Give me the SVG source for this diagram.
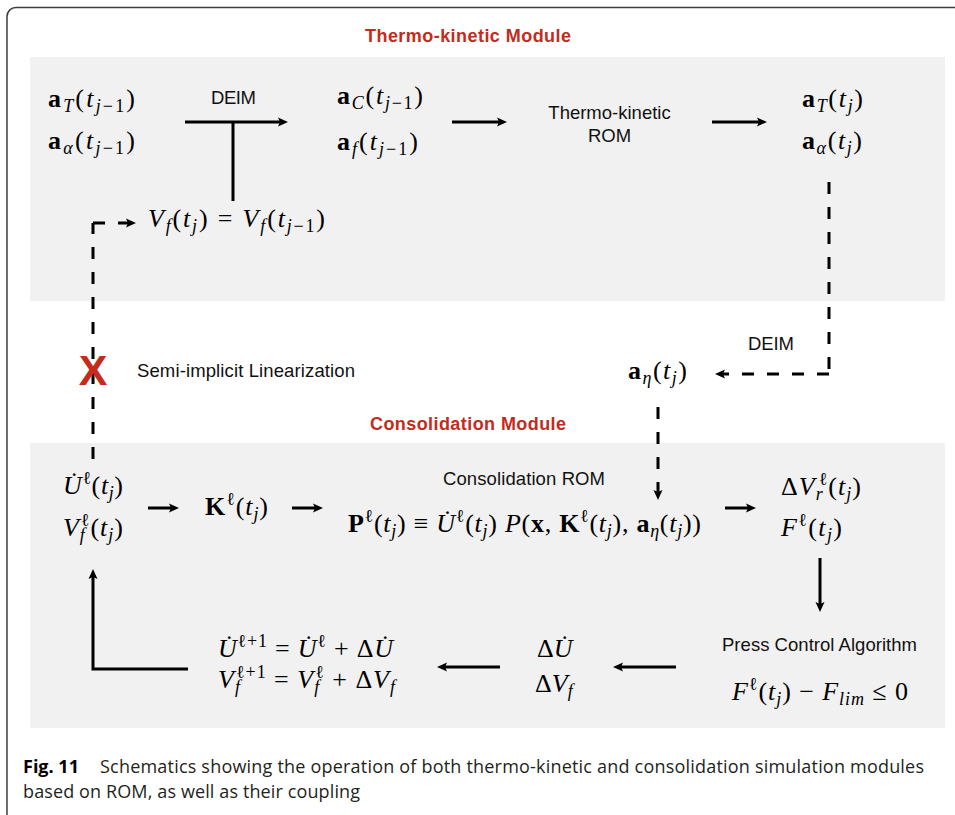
<svg xmlns="http://www.w3.org/2000/svg" width="955" height="815" viewBox="0 0 955 815">
<style>
.m{font-family:"Liberation Serif","DejaVu Serif",serif;font-size:26px;fill:#000}
.i{font-style:italic}
.b{font-weight:bold}
.s{font-size:18px}
.l{font-family:"Liberation Sans",Arial,sans-serif;font-size:18.5px;fill:#111}
.t{font-family:"Liberation Sans",Arial,sans-serif;font-size:18px;font-weight:bold;fill:#c42b1c}
.ln{stroke:#000;stroke-width:3;fill:none}
.d{stroke-dasharray:12 13}
.cap{font-family:"Open Sans","Noto Sans",sans-serif;font-size:18px;fill:#231f20}
.panel{fill:#f1f1f1}
</style>
<defs>
<marker id="ah" viewBox="0 0 10 10" refX="5" refY="5" markerWidth="10" markerHeight="10" markerUnits="userSpaceOnUse" orient="auto">
<path d="M0,0.5 L10,5 L0,9.5 L2,5 z" fill="#000"/>
</marker>
</defs>
<rect x="7" y="7.5" width="1000" height="900" rx="9" fill="#fff" stroke="#3c3c3c" stroke-width="1.5"/>
<rect class="panel" x="30" y="57" width="915" height="244"/>
<rect class="panel" x="30" y="443" width="915" height="285"/>

<g id="title-thermo"><text class="t" x="365" y="42" textLength="206">Thermo-kinetic Module</text></g>
<g id="title-consol"><text class="t" x="370" y="430" textLength="196">Consolidation Module</text></g>

<g id="connectors">
<path class="ln" d="M185,122 H283" marker-end="url(#ah)"/>
<path class="ln" d="M233,122 V201"/>
<path class="ln" d="M452,122 H502" marker-end="url(#ah)"/>
<path class="ln" d="M712,122 H762" marker-end="url(#ah)"/>
<path class="ln d" d="M829,182 V374"/>
<path class="ln d" d="M829,374 H720" marker-end="url(#ah)"/>
<path class="ln d" d="M658,407 V495" marker-end="url(#ah)"/>
<path class="ln d" d="M93,459 V223"/>
<path class="ln d" d="M93,223 H131" marker-end="url(#ah)"/>
<path class="ln" d="M148,508 H174" marker-end="url(#ah)"/>
<path class="ln" d="M292,508 H318" marker-end="url(#ah)"/>
<path class="ln" d="M725,508 H751" marker-end="url(#ah)"/>
<path class="ln" d="M820,558 V607" marker-end="url(#ah)"/>
<path class="ln" d="M676,667 H618" marker-end="url(#ah)"/>
<path class="ln" d="M500,667 H442" marker-end="url(#ah)"/>
<path class="ln" d="M188,669 H93 V574" marker-end="url(#ah)"/>
</g>

<g id="n-aT-prev"><text class="m" x="48" y="107" textLength="87"><tspan class="b">a</tspan><tspan class="s i" dy="5">T</tspan><tspan dy="-5">(</tspan><tspan class="i">t</tspan><tspan class="s" dy="5"><tspan class="i">j</tspan>−1</tspan><tspan dy="-5">)</tspan></text></g>
<g id="n-aalpha-prev"><text class="m" x="48" y="149" textLength="87"><tspan class="b">a</tspan><tspan class="s i" dy="5">α</tspan><tspan dy="-5">(</tspan><tspan class="i">t</tspan><tspan class="s" dy="5"><tspan class="i">j</tspan>−1</tspan><tspan dy="-5">)</tspan></text></g>
<g id="n-deim-top"><text class="l" x="211" y="104" textLength="45">DEIM</text></g>
<g id="n-aC-prev"><text class="m" x="337" y="104" textLength="86"><tspan class="b">a</tspan><tspan class="s i" dy="5">C</tspan><tspan dy="-5">(</tspan><tspan class="i">t</tspan><tspan class="s" dy="5"><tspan class="i">j</tspan>−1</tspan><tspan dy="-5">)</tspan></text></g>
<g id="n-af-prev"><text class="m" x="337" y="150" textLength="81"><tspan class="b">a</tspan><tspan class="s i" dy="5">f</tspan><tspan dy="-5">(</tspan><tspan class="i">t</tspan><tspan class="s" dy="5"><tspan class="i">j</tspan>−1</tspan><tspan dy="-5">)</tspan></text></g>
<g id="n-tk-rom"><text class="l" text-anchor="middle" x="609.5" y="119">Thermo-kinetic</text><text class="l" text-anchor="middle" x="609.5" y="142">ROM</text></g>
<g id="n-aT"><text class="m" x="802" y="107" textLength="61"><tspan class="b">a</tspan><tspan class="s i" dy="5">T</tspan><tspan dy="-5">(</tspan><tspan class="i">t</tspan><tspan class="s i" dy="5">j</tspan><tspan dy="-5">)</tspan></text></g>
<g id="n-aalpha"><text class="m" x="802" y="149" textLength="60"><tspan class="b">a</tspan><tspan class="s i" dy="5">α</tspan><tspan dy="-5">(</tspan><tspan class="i">t</tspan><tspan class="s i" dy="5">j</tspan><tspan dy="-5">)</tspan></text></g>
<g id="n-vf"><text class="m" x="148" y="227" textLength="177"><tspan class="i">V</tspan><tspan class="s i" dy="5">f</tspan><tspan dy="-5">(</tspan><tspan class="i">t</tspan><tspan class="s i" dy="5">j</tspan><tspan dy="-5">) = </tspan><tspan class="i">V</tspan><tspan class="s i" dy="5">f</tspan><tspan dy="-5">(</tspan><tspan class="i">t</tspan><tspan class="s" dy="5"><tspan class="i">j</tspan>−1</tspan><tspan dy="-5">)</tspan></text></g>
<g id="n-deim-right"><text class="l" x="748" y="350" textLength="46">DEIM</text></g>
<g id="n-aeta"><text class="m" x="628" y="379" textLength="59"><tspan class="b">a</tspan><tspan class="s i" dy="5">η</tspan><tspan dy="-5">(</tspan><tspan class="i">t</tspan><tspan class="s i" dy="5">j</tspan><tspan dy="-5">)</tspan></text></g>
<g id="n-cross"><text x="93" y="385" text-anchor="middle" font-family="Liberation Sans, Arial, sans-serif" font-weight="bold" font-size="43" fill="#c42b1c">X</text></g>
<g id="n-semi"><text class="l" x="137" y="377" textLength="218">Semi-implicit Linearization</text></g>

<g id="n-u"><text class="m" x="63" y="494" textLength="60"><tspan class="i">U̇</tspan><tspan class="s" dy="-10">ℓ</tspan><tspan dy="10">(</tspan><tspan class="i">t</tspan><tspan class="s i" dy="5">j</tspan><tspan dy="-5">)</tspan></text>
<text class="m" x="63" y="536" textLength="60"><tspan class="i">V</tspan><tspan class="s i" dy="5">f</tspan><tspan class="s" dx="-5" dy="-15">ℓ</tspan><tspan dy="10">(</tspan><tspan class="i">t</tspan><tspan class="s i" dy="5">j</tspan><tspan dy="-5">)</tspan></text></g>
<g id="n-k"><text class="m" x="205" y="515" textLength="63"><tspan class="b">K</tspan><tspan class="s" dy="-10">ℓ</tspan><tspan dy="10">(</tspan><tspan class="i">t</tspan><tspan class="s i" dy="5">j</tspan><tspan dy="-5">)</tspan></text></g>
<g id="n-rom"><text class="l" x="443" y="485" textLength="162">Consolidation ROM</text>
<text class="m" x="348" y="532" textLength="353"><tspan class="b">P</tspan><tspan class="s" dy="-10">ℓ</tspan><tspan dy="10">(</tspan><tspan class="i">t</tspan><tspan class="s i" dy="5">j</tspan><tspan dy="-5">) ≡ </tspan><tspan class="i">U̇</tspan><tspan class="s" dy="-10">ℓ</tspan><tspan dy="10">(</tspan><tspan class="i">t</tspan><tspan class="s i" dy="5">j</tspan><tspan dy="-5">) </tspan><tspan class="i">P</tspan><tspan>(</tspan><tspan class="b">x</tspan><tspan>, </tspan><tspan class="b">K</tspan><tspan class="s" dy="-10">ℓ</tspan><tspan dy="10">(</tspan><tspan class="i">t</tspan><tspan class="s i" dy="5">j</tspan><tspan dy="-5">), </tspan><tspan class="b">a</tspan><tspan class="s i" dy="5">η</tspan><tspan dy="-5">(</tspan><tspan class="i">t</tspan><tspan class="s i" dy="5">j</tspan><tspan dy="-5">))</tspan></text></g>
<g id="n-dvr"><text class="m" x="781" y="495" textLength="80"><tspan>Δ</tspan><tspan class="i">V</tspan><tspan class="s i" dy="5">r</tspan><tspan class="s" dx="-5" dy="-15">ℓ</tspan><tspan dy="10">(</tspan><tspan class="i">t</tspan><tspan class="s i" dy="5">j</tspan><tspan dy="-5">)</tspan></text>
<text class="m" x="781" y="536" textLength="61"><tspan class="i">F</tspan><tspan class="s" dy="-10">ℓ</tspan><tspan dy="10">(</tspan><tspan class="i">t</tspan><tspan class="s i" dy="5">j</tspan><tspan dy="-5">)</tspan></text></g>
<g id="n-press"><text class="l" x="722" y="651" textLength="195">Press Control Algorithm</text>
<text class="m" x="732" y="700" textLength="176"><tspan class="i">F</tspan><tspan class="s" dy="-10">ℓ</tspan><tspan dy="10">(</tspan><tspan class="i">t</tspan><tspan class="s i" dy="5">j</tspan><tspan dy="-5">) − </tspan><tspan class="i">F</tspan><tspan class="s i" dy="5">lim</tspan><tspan dy="-5"> ≤ 0</tspan></text></g>
<g id="n-delta"><text class="m" x="537" y="657">Δ<tspan class="i">U̇</tspan></text>
<text class="m" x="535" y="692">Δ<tspan class="i">V</tspan><tspan class="s i" dy="5">f</tspan></text></g>
<g id="n-update"><text class="m" x="218" y="657" textLength="175"><tspan class="i">U̇</tspan><tspan class="s" dy="-10">ℓ+1</tspan><tspan dy="10"> = </tspan><tspan class="i">U̇</tspan><tspan class="s" dy="-10">ℓ</tspan><tspan dy="10"> + Δ</tspan><tspan class="i">U̇</tspan></text>
<text class="m" x="218" y="688" textLength="177"><tspan class="i">V</tspan><tspan class="s i" dy="5">f</tspan><tspan class="s" dx="-5" dy="-15">ℓ+1</tspan><tspan dy="10"> = </tspan><tspan class="i">V</tspan><tspan class="s i" dy="5">f</tspan><tspan class="s" dx="-5" dy="-15">ℓ</tspan><tspan dy="10"> + Δ</tspan><tspan class="i">V</tspan><tspan class="s i" dy="5">f</tspan></text></g>

<g id="caption">
<text class="cap" x="23" y="773"><tspan font-weight="bold" fill="#000">Fig. 11</tspan></text>
<text class="cap" x="100" y="773" textLength="824">Schematics showing the operation of both thermo-kinetic and consolidation simulation modules</text>
<text class="cap" x="23" y="798" textLength="337">based on ROM, as well as their coupling</text>
</g>
</svg>
